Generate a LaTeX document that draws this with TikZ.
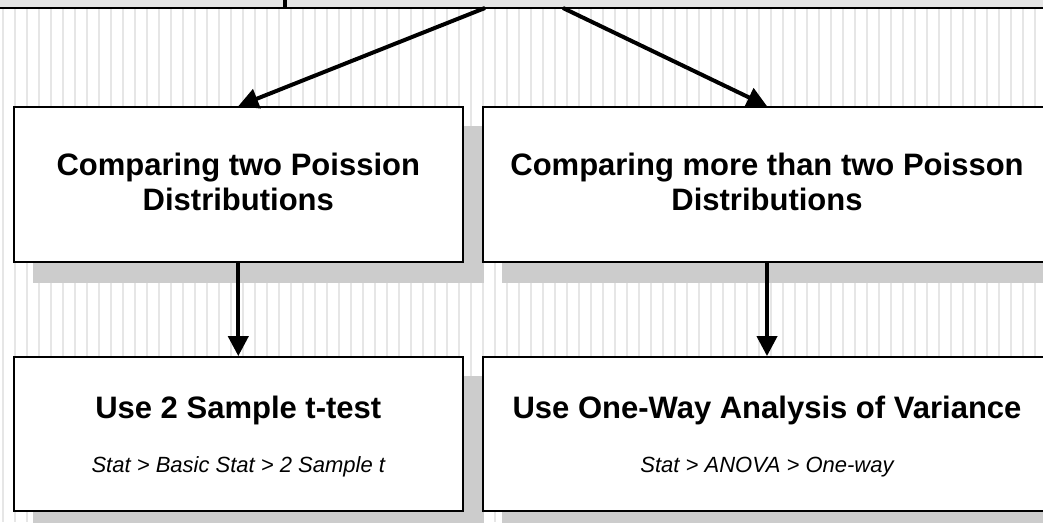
\documentclass[tikz,border=0pt]{standalone}
\usepackage{fontspec}
\setmainfont{Liberation Sans}
\usetikzlibrary{arrows.meta}
\definecolor{stripegrey}{RGB}{230,230,230}
\definecolor{shadowgrey}{RGB}{204,204,204}
\definecolor{headfill}{RGB}{230,230,230}
\pgfdeclarelayer{back}
\pgfdeclarelayer{shadows}
\pgfsetlayers{back,shadows,main}
\tikzset{
  box/.style={draw=black, line width=1.8pt, fill=white, rectangle, inner sep=0pt},
  title/.style={anchor=base, font=\fontsize{31}{36}\selectfont\bfseries, inner sep=0pt},
  menu/.style={anchor=base, font=\fontsize{22}{26}\selectfont\itshape, inner sep=0pt},
  link/.style={line width=4pt, -{Triangle[length=20pt,width=20pt]}},
}
\begin{document}
\begin{tikzpicture}[x=1pt,y=-1pt]
\useasboundingbox (0,0) rectangle (1043,522);
\clip (0,0) rectangle (1043,522);

% striped backdrop
\begin{pgfonlayer}{back}
  \fill[white] (0,0) rectangle (1043,522);
  \foreach \k in {0,...,86}
    \draw[stripegrey, line width=1.1pt] (3+12*\k,0) -- (3+12*\k,522);
\end{pgfonlayer}

% upper boxes, only their lower edges show
\node[box, fill=headfill, minimum width=304pt, minimum height=48pt] (topL) at (132,-16) {};
\node[box, fill=headfill, minimum width=794pt, minimum height=48pt] (topR) at (683,-16) {};
\coordinate (s1) at (485,8);
\coordinate (s2) at (563,8);

% main boxes
\node[box, minimum width=448.7pt, minimum height=155pt] (A) at (238.3,184.5) {};
\node[box, minimum width=568pt,   minimum height=155pt] (B) at (767,184.5) {};
\node[box, minimum width=448.7pt, minimum height=154pt] (C) at (238.3,434) {};
\node[box, minimum width=568pt,   minimum height=154pt] (D) at (767,434) {};

% drop shadows
\begin{pgfonlayer}{shadows}
  \foreach \n in {A,B,C,D}
    \fill[shadowgrey] ([shift={(20pt,-20pt)}]\n.south west) rectangle ([shift={(20pt,-20pt)}]\n.north east);
\end{pgfonlayer}

% labels
\node[title] (tA1) at (238.3,175) {Comparing two Poission};
\node[title] (tA2) at (238.3,210.5) {Distributions};
\node[title] (tB1) at (767,175) {Comparing more than two Poisson};
\node[title] (tB2) at (767,210.5) {Distributions};
\node[title] (tC) at (238.3,418) {Use 2 Sample t-test};
\node[menu]  (mC) at (238.3,472) {Stat > Basic Stat > 2 Sample t};
\node[title] (tD) at (767,418) {Use One-Way Analysis of Variance};
\node[menu]  (mD) at (767,472) {Stat > ANOVA > One-way};

% connectors
\draw[link] (s1) -- (A.north);
\draw[link] (s2) -- (B.north);
\draw[link] (A.south) -- (C.north);
\draw[link] (B.south) -- (D.north);
\end{tikzpicture}
\end{document}
